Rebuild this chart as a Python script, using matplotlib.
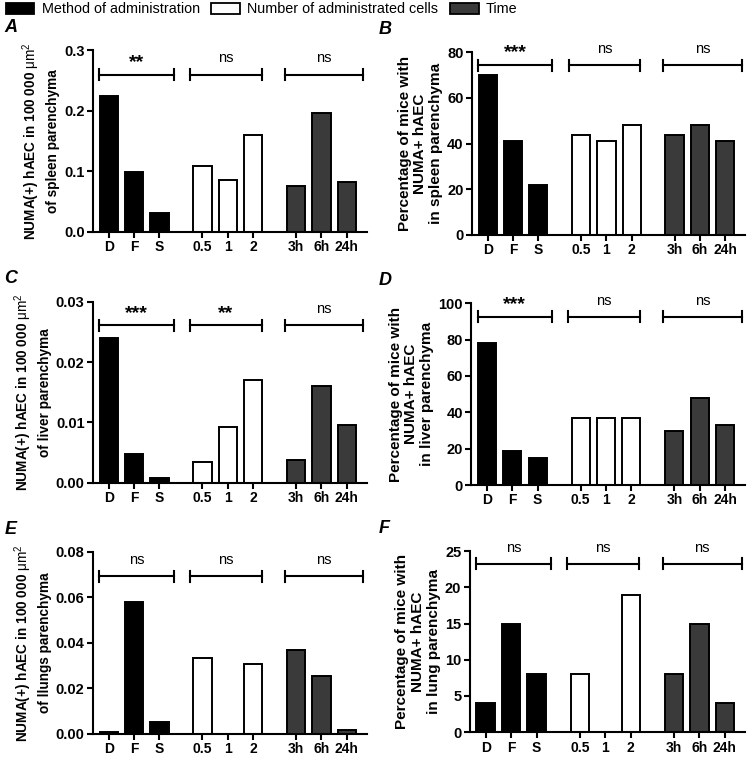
import matplotlib
matplotlib.use('Agg')
import matplotlib.pyplot as plt
from matplotlib.patches import Patch

plt.rcParams['font.family'] = ['Liberation Sans', 'DejaVu Sans']
plt.rcParams['mathtext.fontset'] = 'custom'
plt.rcParams['mathtext.rm'] = 'Liberation Sans'

# data
categories = ['D', 'F', 'S', '0.5', '1', '2', '3h', '6h', '24h']
groups = ['Method of administration', 'Number of administrated cells', 'Time']

spleen_density = [0.224, 0.099, 0.031, 0.108, 0.086, 0.160, 0.075, 0.196, 0.083]
spleen_percent = [70, 41, 22, 44, 41, 48, 44, 48, 41]
liver_density = [0.024, 0.0048, 0.0008, 0.0034, 0.0092, 0.0170, 0.0038, 0.0161, 0.0096]
liver_percent = [78, 19, 15, 37, 37, 37, 30, 48, 33]
lung_density = [0.0008, 0.058, 0.005, 0.0333, 0.0, 0.0305, 0.037, 0.0255, 0.0015]
lung_percent = [4, 15, 8, 8, 0, 19, 8, 15, 4]

spleen_density_sig = ['**', 'ns', 'ns']
spleen_percent_sig = ['***', 'ns', 'ns']
liver_density_sig = ['***', '**', 'ns']
liver_percent_sig = ['***', 'ns', 'ns']
lung_density_sig = ['ns', 'ns', 'ns']
lung_percent_sig = ['ns', 'ns', 'ns']

pos = [0, 1, 2, 3.7, 4.7, 5.7, 7.4, 8.4, 9.4]
group_colors = ['black', 'white', '#3a3a3a']
bar_colors = [group_colors[i // 3] for i in range(9)]
bracket_spans = [(-0.37, 2.56), (3.2, 6.04), (6.95, 10.06)]

dens_label = 'NUMA(+) hAEC in 100 000 $\\mathrm{\\mu m^2}$\nof {} parenchyma'
perc_label = 'Percentage of mice with\nNUMA+ hAEC\nin {} parenchyma'

# letter, values, significance, ymax, yticks, format, label, rect, bracket height, label size, spacing
panels = [
    ('A', spleen_density, spleen_density_sig, 0.3, [0.0, 0.1, 0.2, 0.3], '{:.1f}',
     dens_label.replace('{}', 'spleen'), [0.124, 0.694, 0.366, 0.240], 0.865, 9.8, 1.35),
    ('B', spleen_percent, spleen_percent_sig, 80, [0, 20, 40, 60, 80], '{:d}',
     perc_label.format('spleen'), [0.630, 0.690, 0.365, 0.241], 0.93, 11, 1.15),
    ('C', liver_density, liver_density_sig, 0.03, [0.0, 0.01, 0.02, 0.03], '{:.2f}',
     dens_label.replace('{}', 'liver'), [0.124, 0.363, 0.366, 0.239], 0.87, 9.8, 1.35),
    ('D', liver_percent, liver_percent_sig, 100, [0, 20, 40, 60, 80, 100], '{:d}',
     perc_label.format('liver'), [0.629, 0.360, 0.366, 0.240], 0.925, 11, 1.15),
    ('E', lung_density, lung_density_sig, 0.08, [0.0, 0.02, 0.04, 0.06, 0.08], '{:.2f}',
     dens_label.replace('{}', 'llungs'), [0.124, 0.032, 0.366, 0.240], 0.865, 9.8, 1.35),
    ('F', lung_percent, lung_percent_sig, 25, [0, 5, 10, 15, 20, 25], '{:d}',
     perc_label.format('lung'), [0.627, 0.034, 0.368, 0.239], 0.93, 11, 1.15),
]

fig = plt.figure(figsize=(7.49, 7.58), dpi=100)

for letter, vals, sigs, ymax, yticks, fmt, ylab, rect, bh, lsize, lspace in panels:
    ax = fig.add_axes(rect)
    ax.bar(pos, vals, width=0.72, color=bar_colors, edgecolor='black', linewidth=1.4)
    ax.set_xlim(-0.63, 10.2)
    ax.set_ylim(0, ymax)
    ax.set_yticks(yticks)
    ax.set_yticklabels([fmt.format(t) for t in yticks], fontweight='bold', fontsize=10.5)
    ax.set_xticks(pos)
    ax.set_xticklabels(categories, fontweight='bold', fontsize=10)
    ax.set_ylabel(ylab, fontweight='bold', fontsize=lsize, linespacing=lspace, labelpad=3)
    for s in ['top', 'right']:
        ax.spines[s].set_visible(False)
    for s in ['left', 'bottom']:
        ax.spines[s].set_linewidth(1.5)
    ax.tick_params(width=1.5, length=4, pad=2)
    # significance brackets
    yb = ymax * bh
    cap = ymax * 0.03
    for (x0, x1), sig in zip(bracket_spans, sigs):
        ax.plot([x0, x1], [yb, yb], color='black', lw=1.5, clip_on=False)
        ax.plot([x0, x0], [yb - cap, yb + cap], color='black', lw=1.5, clip_on=False)
        ax.plot([x1, x1], [yb - cap, yb + cap], color='black', lw=1.5, clip_on=False)
        if sig == 'ns':
            ax.text((x0 + x1) / 2, yb + ymax * 0.05, sig, ha='center', va='bottom', fontsize=10.5)
        else:
            ax.text((x0 + x1) / 2, yb + ymax * 0.02, sig, ha='center', va='bottom',
                    fontsize=14, fontweight='bold')
    fx = 0.006 if rect[0] < 0.5 else 0.505
    fig.text(fx, rect[1] + rect[3] + 0.03, letter, fontsize=13, fontweight='bold',
             fontstyle='italic', ha='left', va='center')

handles = [Patch(facecolor=c, edgecolor='black', linewidth=1.3) for c in group_colors]
fig.legend(handles, groups, loc='upper left', bbox_to_anchor=(-0.01, 1.014), ncol=3,
           frameon=False, fontsize=10.4, handlelength=2.0, handleheight=0.75,
           columnspacing=0.8, handletextpad=0.5)

fig.savefig('out.png', dpi=100)
